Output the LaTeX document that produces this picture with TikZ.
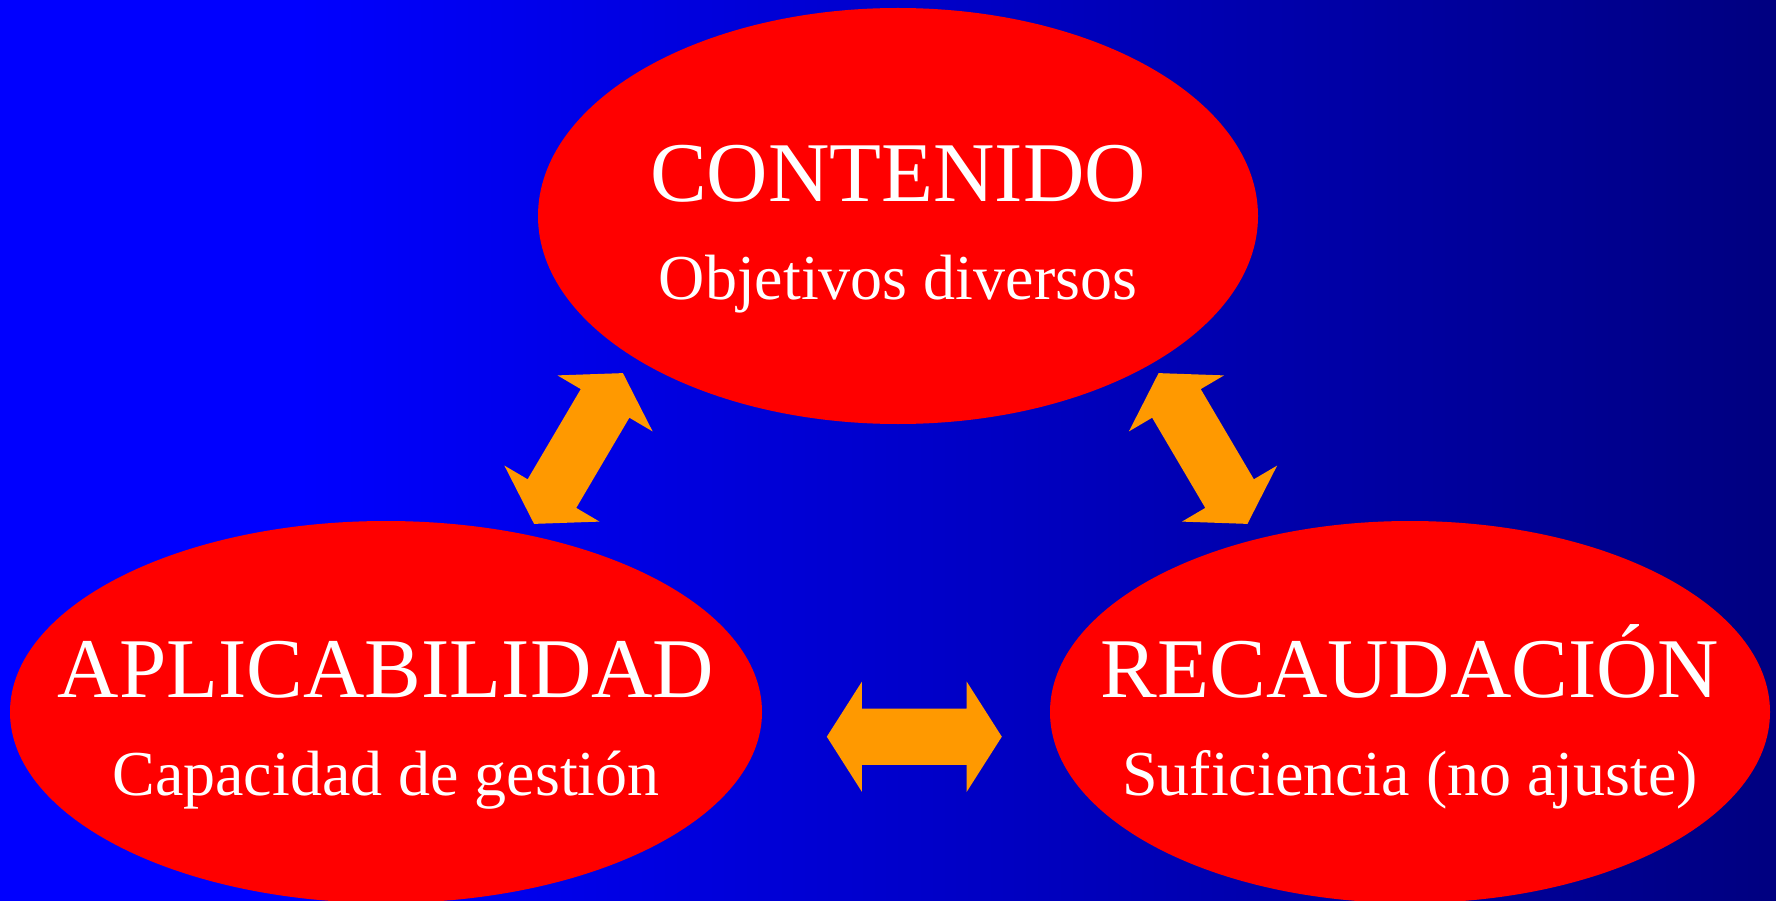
\documentclass[tikz,border=0pt]{standalone}
\usepackage{fontspec}
\setmainfont{Liberation Serif}
\usetikzlibrary{shapes.geometric}
\usetikzlibrary{shapes.arrows}

\definecolor{bgleft}{RGB}{0,0,255}
\definecolor{bgright}{RGB}{0,0,128}
\definecolor{ovalred}{RGB}{255,0,0}
\definecolor{arroworange}{RGB}{255,153,0}
% 25bp..75bp spans the filled rectangle; stays bright over the first sixth
\pgfdeclarehorizontalshading{bgshade}{100bp}{color(0bp)=(bgleft); color(33.4bp)=(bgleft); color(75bp)=(bgright); color(100bp)=(bgright)}

\begin{document}
\begin{tikzpicture}[x=1pt,y=-1pt,
                    red ellipse/.style=  {ellipse,fill=ovalred,inner sep=0pt},
                    title text/.style=   {text=white,anchor=base,inner sep=0pt,font=\fontsize{85}{85}\selectfont},
                    sub text/.style=     {text=white,anchor=base,inner sep=0pt,font=\fontsize{64}{64}\selectfont},
                    orange arrow/.style= {double arrow,fill=arroworange,inner xsep=0pt,inner ysep=28pt,
                                          minimum height=175pt,
                                          double arrow head extend=27pt,double arrow tip angle=115}]
      \useasboundingbox (0,0) rectangle (1776,901);
      \clip (0,0) rectangle (1776,901);
      \shade[shading=bgshade] (0,0) rectangle (1776,901);
      % the three ovals
      \node[red ellipse, minimum width=720pt, minimum height=416pt] (cont) at (898,216) {};
      \node[red ellipse, minimum width=752pt, minimum height=382pt] (apli) at (386,712) {};
      \node[red ellipse, minimum width=720pt, minimum height=382pt] (reca) at (1410,712) {};
      % texts
      \node[title text] (cont title) at ([yshift=14pt]cont.center) {CONTENIDO};
      \node[sub text]   (cont sub)   at ([yshift=-83pt]cont.center) {Objetivos diversos};
      \node[title text] (apli title) at ([yshift=15pt]apli.center) {APLICABILIDAD};
      \node[sub text]   (apli sub)   at ([yshift=-83pt]apli.center) {Capacidad de gestión};
      \node[title text] (reca title) at ([yshift=15pt]reca.center) {RECAUDACIÓN};
      \node[sub text]   (reca sub)   at ([yshift=-83pt]reca.center) {Suficiencia (no ajuste)};
      % arrows between the ovals
      \node[orange arrow, rotate=59.5]  (ca) at (578.5,448.5) {};
      \node[orange arrow, rotate=-59.5] (cr) at (1203,448.5) {};
      \node[orange arrow]               (ar) at (914.3,736.7) {};
\end{tikzpicture}
\end{document}
